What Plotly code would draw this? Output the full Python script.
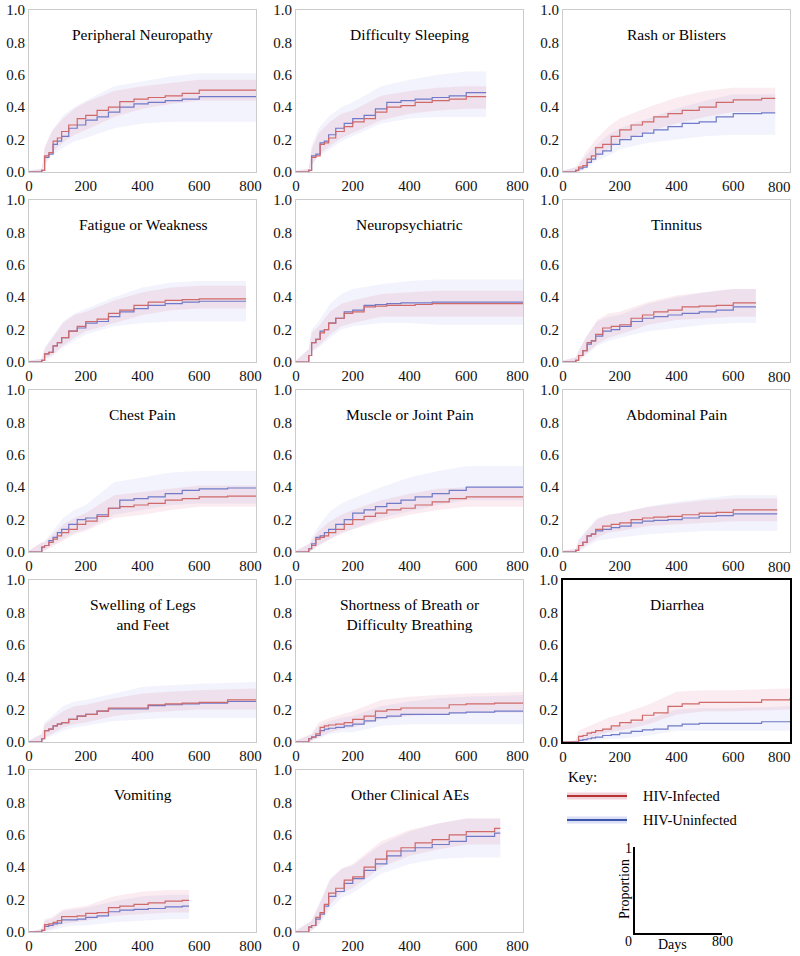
import plotly.graph_objects as go
from plotly.subplots import make_subplots

# day grid for the step curves, and a coarser one for the confidence bands
DAYS = [0, 45, 55, 70, 85, 100, 115, 140, 170, 200, 240, 280, 320, 370, 420, 480, 540, 600, 700, 800]
BAND_DAYS = [0, 45, 55, 80, 120, 160, 200, 300, 400, 500, 600, 800]

# Peripheral Neuropathy
PN_INF = [0, 0.01, 0.10, 0.12, 0.19, 0.21, 0.25, 0.29, 0.33, 0.35, 0.38, 0.40, 0.435, 0.45, 0.46, 0.47, 0.485, 0.505, 0.505, 0.505]
PN_UNI = [0, 0.01, 0.09, 0.11, 0.17, 0.19, 0.22, 0.27, 0.29, 0.32, 0.34, 0.37, 0.40, 0.42, 0.43, 0.44, 0.45, 0.465, 0.465, 0.465]
PN_INF_LO = [0, 0, 0.05, 0.12, 0.18, 0.23, 0.26, 0.34, 0.39, 0.42, 0.44, 0.44]
PN_INF_HI = [0.01, 0.02, 0.15, 0.25, 0.33, 0.39, 0.43, 0.50, 0.53, 0.55, 0.57, 0.57]
PN_UNI_LO = [0, 0, 0.04, 0.10, 0.15, 0.19, 0.21, 0.27, 0.30, 0.31, 0.31, 0.31]
PN_UNI_HI = [0.01, 0.02, 0.15, 0.25, 0.35, 0.40, 0.44, 0.53, 0.56, 0.59, 0.61, 0.61]

# Difficulty Sleeping
DS_INF = [0, 0.01, 0.09, 0.10, 0.17, 0.18, 0.21, 0.25, 0.28, 0.31, 0.33, 0.37, 0.40, 0.41, 0.43, 0.44, 0.45, 0.465, 0.465, 0.465]
DS_UNI = [0, 0.01, 0.10, 0.11, 0.18, 0.19, 0.23, 0.27, 0.30, 0.33, 0.35, 0.39, 0.43, 0.44, 0.45, 0.46, 0.47, 0.49, 0.49, 0.49]
DS_INF_LO = [0, 0, 0.04, 0.11, 0.16, 0.21, 0.24, 0.32, 0.36, 0.38, 0.39, 0.39]
DS_INF_HI = [0.01, 0.02, 0.14, 0.24, 0.31, 0.36, 0.38, 0.47, 0.50, 0.52, 0.53, 0.53]
DS_UNI_LO = [0, 0, 0.04, 0.10, 0.14, 0.19, 0.22, 0.30, 0.33, 0.34, 0.34, 0.34]
DS_UNI_HI = [0.01, 0.02, 0.16, 0.27, 0.35, 0.40, 0.43, 0.53, 0.57, 0.60, 0.62, 0.62]

# Rash or Blisters
RB_INF = [0, 0.01, 0.03, 0.04, 0.08, 0.10, 0.15, 0.17, 0.22, 0.26, 0.29, 0.31, 0.34, 0.36, 0.38, 0.40, 0.43, 0.445, 0.455, 0.455]
RB_UNI = [0, 0.01, 0.02, 0.03, 0.06, 0.08, 0.11, 0.13, 0.17, 0.20, 0.22, 0.24, 0.26, 0.28, 0.30, 0.31, 0.34, 0.36, 0.365, 0.365]
RB_INF_LO = [0, 0, 0.0, 0.03, 0.09, 0.14, 0.19, 0.25, 0.30, 0.34, 0.37, 0.38]
RB_INF_HI = [0.01, 0.03, 0.05, 0.12, 0.21, 0.28, 0.33, 0.40, 0.46, 0.50, 0.52, 0.53]
RB_UNI_LO = [0, 0, 0.0, 0.02, 0.07, 0.10, 0.14, 0.18, 0.20, 0.22, 0.23, 0.23]
RB_UNI_HI = [0.01, 0.03, 0.04, 0.10, 0.17, 0.23, 0.27, 0.33, 0.39, 0.44, 0.48, 0.49]

# Fatigue or Weakness
FW_INF = [0, 0.01, 0.05, 0.06, 0.10, 0.12, 0.15, 0.19, 0.22, 0.25, 0.265, 0.30, 0.32, 0.35, 0.37, 0.38, 0.385, 0.39, 0.39, 0.39]
FW_UNI = [0, 0.01, 0.05, 0.06, 0.10, 0.12, 0.15, 0.19, 0.21, 0.24, 0.25, 0.28, 0.31, 0.33, 0.35, 0.36, 0.37, 0.375, 0.375, 0.375]
FW_INF_LO = [0, 0, 0.02, 0.04, 0.10, 0.15, 0.19, 0.24, 0.29, 0.32, 0.33, 0.33]
FW_INF_HI = [0.01, 0.02, 0.08, 0.14, 0.24, 0.29, 0.31, 0.38, 0.43, 0.46, 0.47, 0.47]
FW_UNI_LO = [0, 0, 0.02, 0.03, 0.09, 0.13, 0.17, 0.22, 0.24, 0.25, 0.25, 0.25]
FW_UNI_HI = [0.01, 0.02, 0.09, 0.15, 0.25, 0.30, 0.33, 0.40, 0.46, 0.49, 0.50, 0.50]

# Neuropsychiatric
NP_INF = [0, 0.04, 0.12, 0.14, 0.18, 0.20, 0.24, 0.27, 0.30, 0.31, 0.34, 0.345, 0.35, 0.35, 0.355, 0.36, 0.36, 0.36, 0.36, 0.36]
NP_UNI = [0, 0.04, 0.12, 0.14, 0.19, 0.20, 0.24, 0.27, 0.31, 0.32, 0.35, 0.355, 0.36, 0.365, 0.365, 0.37, 0.37, 0.37, 0.37, 0.37]
NP_INF_LO = [0, 0.01, 0.07, 0.10, 0.17, 0.22, 0.24, 0.28, 0.28, 0.28, 0.28, 0.28]
NP_INF_HI = [0.01, 0.08, 0.18, 0.22, 0.31, 0.36, 0.38, 0.42, 0.43, 0.44, 0.44, 0.44]
NP_UNI_LO = [0, 0.01, 0.06, 0.09, 0.15, 0.20, 0.22, 0.24, 0.24, 0.23, 0.23, 0.23]
NP_UNI_HI = [0.01, 0.08, 0.20, 0.25, 0.36, 0.42, 0.45, 0.48, 0.50, 0.51, 0.51, 0.51]

# Tinnitus
TN_INF = [0, 0.01, 0.04, 0.07, 0.12, 0.13, 0.17, 0.21, 0.22, 0.23, 0.27, 0.29, 0.31, 0.32, 0.34, 0.345, 0.35, 0.365, 0.365, 0.365]
TN_UNI = [0, 0.01, 0.04, 0.07, 0.11, 0.13, 0.16, 0.19, 0.20, 0.22, 0.25, 0.27, 0.28, 0.29, 0.30, 0.31, 0.32, 0.34, 0.34, 0.34]
TN_INF_LO = [0, 0, 0.01, 0.05, 0.11, 0.15, 0.17, 0.23, 0.26, 0.27, 0.28, 0.28]
TN_INF_HI = [0.01, 0.03, 0.07, 0.15, 0.26, 0.30, 0.31, 0.37, 0.41, 0.43, 0.45, 0.45]
TN_UNI_LO = [0, 0, 0.01, 0.04, 0.10, 0.13, 0.15, 0.19, 0.21, 0.23, 0.24, 0.24]
TN_UNI_HI = [0.01, 0.03, 0.07, 0.15, 0.25, 0.28, 0.29, 0.36, 0.40, 0.43, 0.45, 0.45]

# Chest Pain
CP_INF = [0, 0.03, 0.04, 0.06, 0.08, 0.10, 0.12, 0.14, 0.17, 0.19, 0.22, 0.27, 0.28, 0.29, 0.30, 0.32, 0.33, 0.34, 0.345, 0.345]
CP_UNI = [0, 0.03, 0.04, 0.07, 0.09, 0.12, 0.14, 0.17, 0.20, 0.21, 0.23, 0.27, 0.32, 0.33, 0.34, 0.36, 0.38, 0.39, 0.395, 0.395]
CP_INF_LO = [0, 0.01, 0.01, 0.03, 0.07, 0.11, 0.13, 0.21, 0.23, 0.26, 0.28, 0.28]
CP_INF_HI = [0.01, 0.06, 0.06, 0.10, 0.17, 0.21, 0.24, 0.35, 0.37, 0.39, 0.41, 0.41]
CP_UNI_LO = [0, 0.01, 0.01, 0.04, 0.08, 0.12, 0.14, 0.23, 0.26, 0.29, 0.30, 0.30]
CP_UNI_HI = [0.01, 0.06, 0.07, 0.12, 0.21, 0.26, 0.29, 0.43, 0.46, 0.49, 0.50, 0.50]

# Muscle or Joint Pain
MJ_INF = [0, 0.02, 0.04, 0.08, 0.09, 0.10, 0.12, 0.14, 0.17, 0.20, 0.22, 0.24, 0.26, 0.27, 0.29, 0.31, 0.33, 0.34, 0.34, 0.34]
MJ_UNI = [0, 0.02, 0.05, 0.09, 0.10, 0.12, 0.14, 0.17, 0.20, 0.24, 0.26, 0.28, 0.30, 0.32, 0.34, 0.36, 0.38, 0.40, 0.40, 0.40]
MJ_INF_LO = [0, 0, 0.01, 0.04, 0.08, 0.11, 0.14, 0.19, 0.23, 0.26, 0.28, 0.28]
MJ_INF_HI = [0.01, 0.05, 0.07, 0.13, 0.19, 0.23, 0.26, 0.32, 0.36, 0.39, 0.40, 0.40]
MJ_UNI_LO = [0, 0, 0.01, 0.04, 0.08, 0.12, 0.14, 0.21, 0.25, 0.29, 0.32, 0.32]
MJ_UNI_HI = [0.01, 0.05, 0.09, 0.16, 0.25, 0.30, 0.33, 0.40, 0.46, 0.50, 0.53, 0.53]

# Abdominal Pain
AP_INF = [0, 0.01, 0.04, 0.06, 0.10, 0.11, 0.14, 0.16, 0.17, 0.18, 0.20, 0.21, 0.215, 0.22, 0.23, 0.24, 0.245, 0.26, 0.26, 0.26]
AP_UNI = [0, 0.01, 0.04, 0.06, 0.10, 0.11, 0.13, 0.14, 0.15, 0.16, 0.18, 0.19, 0.195, 0.20, 0.21, 0.22, 0.225, 0.235, 0.235, 0.235]
AP_INF_LO = [0, 0, 0.01, 0.04, 0.09, 0.12, 0.13, 0.16, 0.17, 0.18, 0.19, 0.19]
AP_INF_HI = [0.01, 0.02, 0.07, 0.12, 0.20, 0.23, 0.24, 0.28, 0.30, 0.32, 0.33, 0.33]
AP_UNI_LO = [0, 0, 0.0, 0.03, 0.07, 0.08, 0.09, 0.11, 0.12, 0.13, 0.13, 0.13]
AP_UNI_HI = [0.01, 0.02, 0.08, 0.13, 0.21, 0.23, 0.24, 0.28, 0.31, 0.33, 0.35, 0.35]

# Swelling of Legs and Feet
SL_INF = [0, 0.02, 0.07, 0.08, 0.10, 0.11, 0.12, 0.14, 0.16, 0.17, 0.19, 0.21, 0.21, 0.21, 0.23, 0.235, 0.24, 0.245, 0.26, 0.26]
SL_UNI = [0, 0.02, 0.07, 0.08, 0.10, 0.11, 0.12, 0.14, 0.16, 0.17, 0.19, 0.205, 0.205, 0.205, 0.225, 0.23, 0.235, 0.24, 0.25, 0.25]
SL_INF_LO = [0, 0, 0.03, 0.05, 0.09, 0.11, 0.12, 0.16, 0.18, 0.19, 0.20, 0.20]
SL_INF_HI = [0.01, 0.05, 0.11, 0.14, 0.19, 0.22, 0.23, 0.27, 0.30, 0.31, 0.32, 0.33]
SL_UNI_LO = [0, 0, 0.02, 0.04, 0.07, 0.09, 0.10, 0.13, 0.14, 0.15, 0.15, 0.15]
SL_UNI_HI = [0.01, 0.05, 0.12, 0.16, 0.22, 0.25, 0.26, 0.30, 0.34, 0.35, 0.36, 0.37]

# Shortness of Breath or Difficulty Breathing
SB_INF = [0, 0.02, 0.03, 0.05, 0.09, 0.10, 0.105, 0.11, 0.12, 0.14, 0.16, 0.19, 0.20, 0.21, 0.21, 0.21, 0.23, 0.235, 0.24, 0.24]
SB_UNI = [0, 0.02, 0.03, 0.04, 0.07, 0.08, 0.085, 0.09, 0.10, 0.11, 0.13, 0.15, 0.16, 0.17, 0.17, 0.17, 0.18, 0.185, 0.19, 0.19]
SB_INF_LO = [0, 0, 0.01, 0.03, 0.06, 0.08, 0.09, 0.14, 0.16, 0.17, 0.18, 0.18]
SB_INF_HI = [0.01, 0.04, 0.05, 0.12, 0.15, 0.17, 0.19, 0.26, 0.28, 0.29, 0.30, 0.31]
SB_UNI_LO = [0, 0, 0.0, 0.02, 0.05, 0.06, 0.06, 0.10, 0.11, 0.11, 0.11, 0.11]
SB_UNI_HI = [0.01, 0.04, 0.05, 0.10, 0.13, 0.15, 0.16, 0.22, 0.25, 0.27, 0.28, 0.29]

# Diarrhea
DI_INF = [0, 0, 0.035, 0.04, 0.055, 0.06, 0.07, 0.08, 0.10, 0.12, 0.135, 0.165, 0.18, 0.22, 0.235, 0.245, 0.245, 0.245, 0.26, 0.27]
DI_UNI = [0, 0, 0.01, 0.015, 0.02, 0.025, 0.03, 0.04, 0.045, 0.055, 0.065, 0.075, 0.08, 0.10, 0.11, 0.115, 0.115, 0.115, 0.125, 0.13]
DI_INF_LO = [0, 0, 0.01, 0.02, 0.04, 0.06, 0.07, 0.11, 0.17, 0.19, 0.19, 0.20]
DI_INF_HI = [0, 0.01, 0.07, 0.09, 0.12, 0.15, 0.17, 0.23, 0.31, 0.32, 0.32, 0.33]
DI_UNI_LO = [0, 0, 0.0, 0.0, 0.01, 0.02, 0.02, 0.04, 0.07, 0.07, 0.07, 0.07]
DI_UNI_HI = [0, 0.01, 0.04, 0.05, 0.07, 0.09, 0.10, 0.14, 0.20, 0.21, 0.21, 0.22]

# Vomiting
VO_INF = [0, 0.01, 0.045, 0.05, 0.06, 0.07, 0.095, 0.095, 0.10, 0.115, 0.12, 0.15, 0.16, 0.17, 0.18, 0.19, 0.195, 0.195, 0.195, 0.195]
VO_UNI = [0, 0.01, 0.035, 0.04, 0.05, 0.055, 0.075, 0.075, 0.08, 0.09, 0.10, 0.125, 0.135, 0.14, 0.145, 0.155, 0.16, 0.16, 0.16, 0.16]
VO_INF_LO = [0, 0, 0.01, 0.02, 0.05, 0.06, 0.07, 0.10, 0.11, 0.12, 0.12, 0.12]
VO_INF_HI = [0, 0.02, 0.08, 0.09, 0.14, 0.15, 0.16, 0.22, 0.25, 0.26, 0.27, 0.27]
VO_UNI_LO = [0, 0, 0.0, 0.01, 0.03, 0.04, 0.04, 0.06, 0.07, 0.08, 0.08, 0.08]
VO_UNI_HI = [0, 0.02, 0.07, 0.08, 0.13, 0.14, 0.15, 0.19, 0.22, 0.23, 0.24, 0.24]

# Other Clinical AEs
OC_INF = [0, 0.03, 0.04, 0.09, 0.12, 0.17, 0.24, 0.27, 0.32, 0.34, 0.40, 0.45, 0.50, 0.52, 0.55, 0.57, 0.60, 0.62, 0.64, 0.64]
OC_UNI = [0, 0.03, 0.04, 0.08, 0.11, 0.16, 0.22, 0.25, 0.30, 0.33, 0.38, 0.42, 0.47, 0.50, 0.52, 0.54, 0.56, 0.59, 0.61, 0.61]
OC_INF_LO = [0, 0.01, 0.01, 0.05, 0.17, 0.24, 0.27, 0.40, 0.47, 0.51, 0.54, 0.55]
OC_INF_HI = [0.01, 0.06, 0.07, 0.16, 0.32, 0.39, 0.42, 0.56, 0.63, 0.67, 0.70, 0.73]
OC_UNI_LO = [0, 0.01, 0.01, 0.04, 0.14, 0.21, 0.24, 0.36, 0.42, 0.45, 0.46, 0.46]
OC_UNI_HI = [0.01, 0.06, 0.07, 0.17, 0.33, 0.39, 0.41, 0.54, 0.62, 0.67, 0.70, 0.72]

X_TICKS = [0, 200, 400, 600, 800]
Y_TICKS = [0, 0.2, 0.4, 0.6, 0.8, 1.0]

# title, row, col, last day of follow-up, curves
PANELS = [
    ("Peripheral Neuropathy", 1, 1, 800, PN_INF, PN_UNI, PN_INF_LO, PN_INF_HI, PN_UNI_LO, PN_UNI_HI),
    ("Difficulty Sleeping", 1, 2, 670, DS_INF, DS_UNI, DS_INF_LO, DS_INF_HI, DS_UNI_LO, DS_UNI_HI),
    ("Rash or Blisters", 1, 3, 748, RB_INF, RB_UNI, RB_INF_LO, RB_INF_HI, RB_UNI_LO, RB_UNI_HI),
    ("Fatigue or Weakness", 2, 1, 765, FW_INF, FW_UNI, FW_INF_LO, FW_INF_HI, FW_UNI_LO, FW_UNI_HI),
    ("Neuropsychiatric", 2, 2, 800, NP_INF, NP_UNI, NP_INF_LO, NP_INF_HI, NP_UNI_LO, NP_UNI_HI),
    ("Tinnitus", 2, 3, 680, TN_INF, TN_UNI, TN_INF_LO, TN_INF_HI, TN_UNI_LO, TN_UNI_HI),
    ("Chest Pain", 3, 1, 800, CP_INF, CP_UNI, CP_INF_LO, CP_INF_HI, CP_UNI_LO, CP_UNI_HI),
    ("Muscle or Joint Pain", 3, 2, 800, MJ_INF, MJ_UNI, MJ_INF_LO, MJ_INF_HI, MJ_UNI_LO, MJ_UNI_HI),
    ("Abdominal Pain", 3, 3, 755, AP_INF, AP_UNI, AP_INF_LO, AP_INF_HI, AP_UNI_LO, AP_UNI_HI),
    ("Swelling of Legs<br>and Feet", 4, 1, 800, SL_INF, SL_UNI, SL_INF_LO, SL_INF_HI, SL_UNI_LO, SL_UNI_HI),
    ("Shortness of Breath or<br>Difficulty Breathing", 4, 2, 800, SB_INF, SB_UNI, SB_INF_LO, SB_INF_HI, SB_UNI_LO, SB_UNI_HI),
    ("Diarrhea", 4, 3, 800, DI_INF, DI_UNI, DI_INF_LO, DI_INF_HI, DI_UNI_LO, DI_UNI_HI),
    ("Vomiting", 5, 1, 564, VO_INF, VO_UNI, VO_INF_LO, VO_INF_HI, VO_UNI_LO, VO_UNI_HI),
    ("Other Clinical AEs", 5, 2, 720, OC_INF, OC_UNI, OC_INF_LO, OC_INF_HI, OC_UNI_LO, OC_UNI_HI),
]

RED = "rgb(208,105,105)"
BLUE = "rgb(112,122,200)"
RED_BAND = "rgba(215,110,140,0.13)"
BLUE_BAND = "rgba(140,150,225,0.11)"
FONT = "Liberation Serif, Times New Roman, serif"
W, H = 800, 956
ML, MR, MT, MB = 29, 10, 10, 24


def cut(grid, vals, end):
    xs, ys = [], []
    for t, v in zip(grid, vals):
        if t <= end:
            xs.append(t)
            ys.append(v)
    if xs[-1] < end:
        xs.append(end)
        ys.append(ys[-1])
    return xs, ys


def band(fig, lo, hi, end, color, r, c):
    xs, ylo = cut(BAND_DAYS, lo, end)
    _, yhi = cut(BAND_DAYS, hi, end)
    fig.add_trace(go.Scatter(x=xs, y=ylo, mode="lines", line=dict(width=0),
                             hoverinfo="skip", showlegend=False), row=r, col=c)
    fig.add_trace(go.Scatter(x=xs, y=yhi, mode="lines", line=dict(width=0),
                             fill="tonexty", fillcolor=color, hoverinfo="skip",
                             showlegend=False), row=r, col=c)


specs = [[{}, {}, {}] for _ in range(4)] + [[{}, {}, None]]
fig = make_subplots(rows=5, cols=3, specs=specs,
                    horizontal_spacing=40 / 761, vertical_spacing=28 / 922)

for title, r, c, end, inf, uni, inf_lo, inf_hi, uni_lo, uni_hi in PANELS:
    band(fig, uni_lo, uni_hi, end, BLUE_BAND, r, c)
    band(fig, inf_lo, inf_hi, end, RED_BAND, r, c)
    xs, ys = cut(DAYS, uni, end)
    fig.add_trace(go.Scatter(x=xs, y=ys, mode="lines", line=dict(color=BLUE, width=1.2, shape="hv"),
                             name="HIV-Uninfected", showlegend=False), row=r, col=c)
    xs, ys = cut(DAYS, inf, end)
    fig.add_trace(go.Scatter(x=xs, y=ys, mode="lines", line=dict(color=RED, width=1.2, shape="hv"),
                             name="HIV-Infected", showlegend=False), row=r, col=c)
    two = "<br>" in title
    fig.add_annotation(text=title, xref="x domain", yref="y domain", x=0.5,
                       y=0.79 if two else 0.85, showarrow=False, xanchor="center", yanchor="middle",
                       font=dict(family=FONT, size=15.5, color="black"), row=r, col=c)

NB = "\u00a0"
tick_font = dict(family=FONT, size=15, color="#111")
fig.update_xaxes(range=[0, 800], tickvals=X_TICKS,
                 ticktext=[str(v) for v in X_TICKS[:-1]] + [str(X_TICKS[-1]) + NB * 3],
                 ticklabeloverflow="allow",
                 showgrid=False, zeroline=False, automargin=False,
                 showline=True, mirror=True, linecolor="#cccccc", linewidth=1, ticks="",
                 tickfont=tick_font)
fig.update_yaxes(range=[0, 1.0], tickvals=Y_TICKS, tickformat=".1f",
                 showgrid=False, zeroline=False, showline=True, mirror=True, linecolor="#cccccc",
                 linewidth=1, ticks="", automargin=False, tickfont=tick_font)

# right-hand column: the last x label sits flush with the panel edge, inside the page
for r in range(1, 5):
    fig.update_xaxes(ticktext=[str(v) for v in X_TICKS[:-1]] + [""], row=r, col=3)
    fig.add_annotation(text=str(X_TICKS[-1]), xref="x", yref="y domain", x=X_TICKS[-1], y=0,
                       xanchor="right", yanchor="top", yshift=-5, xshift=3, showarrow=False,
                       font=tick_font, row=r, col=3)

# highlighted panel
fig.update_xaxes(linecolor="black", linewidth=2, row=4, col=3)
fig.update_yaxes(linecolor="black", linewidth=2, row=4, col=3)


# key in the empty bottom-right cell, placed in pixel terms of the page
def px(x):
    return (x - ML) / (W - ML - MR)


def py(y):
    return 1 - (y - MT) / (H - MT - MB)


shapes = []
for y, band_col, line_col in [(796, "rgba(215,110,135,0.3)", "rgb(180,50,50)"),
                              (820, "rgba(130,150,220,0.3)", "rgb(60,85,170)")]:
    shapes.append(dict(type="rect", xref="paper", yref="paper", x0=px(567), x1=px(627),
                       y0=py(y + 3.5), y1=py(y - 3.5), fillcolor=band_col, line=dict(width=0)))
    shapes.append(dict(type="line", xref="paper", yref="paper", x0=px(567), x1=px(627),
                       y0=py(y), y1=py(y), line=dict(color=line_col, width=2)))
shapes.append(dict(type="line", xref="paper", yref="paper", x0=px(634), x1=px(634),
                   y0=py(847), y1=py(934), line=dict(color="black", width=2)))
shapes.append(dict(type="line", xref="paper", yref="paper", x0=px(633), x1=px(722),
                   y0=py(934), y1=py(934), line=dict(color="black", width=2)))
fig.update_layout(shapes=shapes)

key_texts = [
    ("Key:", 566, 777, "left", 0, 15),
    ("HIV-Infected", 641, 796, "left", 0, 14.5),
    ("HIV-Uninfected", 641, 820, "left", 0, 14.5),
    ("1", 628, 848, "center", 0, 14),
    ("0", 628, 941, "center", 0, 14),
    ("Days", 672, 944, "center", 0, 14),
    ("800", 722, 941, "center", 0, 14),
    ("Proportion", 624, 889, "center", -90, 14),
]
for txt, x, y, anchor, angle, size in key_texts:
    fig.add_annotation(text=txt, xref="paper", yref="paper", x=px(x), y=py(y), showarrow=False,
                       xanchor=anchor, yanchor="middle", textangle=angle,
                       font=dict(family=FONT, size=size, color="black"))

fig.update_layout(width=W, height=H, margin=dict(l=ML, r=MR, t=MT, b=MB),
                  paper_bgcolor="white", plot_bgcolor="white", showlegend=False,
                  font=dict(family=FONT))

# the page's default body margin would push the figure 8px off the window
fig.write_html("out.html", config={"displayModeBar": False},
               post_script="document.body.style.margin='0';"
                           "document.body.style.overflow='hidden';")
